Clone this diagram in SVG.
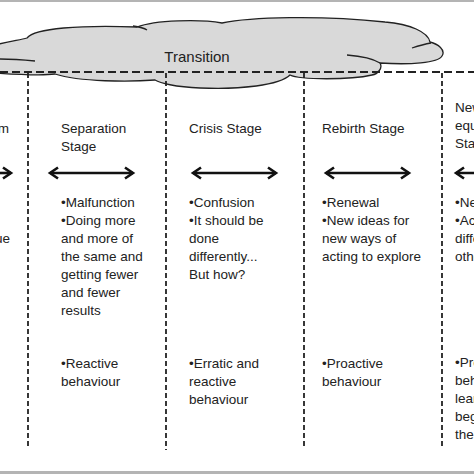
<svg xmlns="http://www.w3.org/2000/svg" width="474" height="474" viewBox="0 0 474 474">
<defs>
<style>
.t{font-family:"Liberation Sans",Arial,sans-serif;font-size:13.5px;fill:#222}
.ttl{font-family:"Liberation Sans",Arial,sans-serif;font-size:15px;fill:#222}
.vd{stroke:#222;stroke-width:1.8;stroke-dasharray:5 3;fill:none}
.hd{stroke:#222;stroke-width:1.8;stroke-dasharray:8 4;fill:none}
.ar{stroke:#111;stroke-width:2.6;fill:none}
.hk{stroke:#222;stroke-width:1.3;fill:none}
</style>
<marker id="ah" viewBox="-2 -7 14 14" markerWidth="14" markerHeight="14" refX="9" refY="0" orient="auto-start-reverse" markerUnits="userSpaceOnUse">
<path d="M1,-5.5 L9,0 L1,5.5" stroke="#111" stroke-width="2.6" fill="none" stroke-linejoin="miter"/>
</marker>
</defs>
<rect x="0" y="0" width="474" height="474" fill="#fff"/>
<rect x="0" y="0" width="474" height="2" fill="#b4b4b4"/>
<rect x="0" y="471" width="474" height="3" fill="#b4b4b4"/>

<g id="cloud">
<path d="M -5,45 C 10,41 20,40 27,38 C 35,28 80,25 137,27 C 155,20 200,19 222,23 C 250,17 320,15 385,22 C 410,24 428,32 430,42 C 438,44 446,50 442,56 C 438,63 410,65 380,63 C 383,68 378,74 372,75 C 350,80 300,80 290,75 C 280,85 240,90 200,88 C 175,87 160,83 155,80 C 130,82 80,82 55,74 C 40,76 10,74 -5,73 Z" fill="#d9d9d9" stroke="#222" stroke-width="1.3"/>
<path class="hk" d="M133,26 C140,27 144,28 147,30"/>
<path class="hk" d="M412,48 C418,46 425,44 431,43"/>
<path class="hk" d="M347,55 C360,56 372,58 380,63"/>
<path class="hk" d="M0,59 C12,59 25,60 35,61"/>
<text class="ttl" x="197" y="62" text-anchor="middle">Transition</text>
</g>

<g id="dividers">
<line class="hd" x1="0" y1="72" x2="474" y2="72"/>
<line class="vd" x1="28" y1="73" x2="28" y2="446"/>
<line class="vd" x1="166" y1="73" x2="166" y2="450"/>
<line class="vd" x1="304" y1="73" x2="304" y2="446"/>
<line class="vd" x1="442" y1="73" x2="442" y2="446"/>
</g>

<g id="connectors">
<line class="ar" x1="-20" y1="173" x2="11" y2="173" marker-end="url(#ah)"/>
<line class="ar" x1="50" y1="173" x2="133" y2="173" marker-start="url(#ah)" marker-end="url(#ah)"/>
<line class="ar" x1="193" y1="173" x2="276" y2="173" marker-start="url(#ah)" marker-end="url(#ah)"/>
<line class="ar" x1="326" y1="173" x2="409" y2="173" marker-start="url(#ah)" marker-end="url(#ah)"/>
<line class="ar" x1="456" y1="173" x2="520" y2="173" marker-start="url(#ah)"/>
</g>

<g id="equilibrium-stage">
<text class="t" x="9" y="132.5" text-anchor="end">m</text>
<text class="t" x="10" y="242.5" text-anchor="end">ue</text>
</g>

<g id="separation-stage">
<text class="t" x="61" y="132.5">Separation</text>
<text class="t" x="61" y="150.5">Stage</text>
<text class="t" x="61" y="206.5">•Malfunction</text>
<text class="t" x="61" y="224.5">•Doing more</text>
<text class="t" x="61" y="242.5">and more of</text>
<text class="t" x="61" y="260.5">the same and</text>
<text class="t" x="61" y="278.5">getting fewer</text>
<text class="t" x="61" y="296.5">and fewer</text>
<text class="t" x="61" y="314.5">results</text>
<text class="t" x="61" y="368">•Reactive</text>
<text class="t" x="61" y="386">behaviour</text>
</g>

<g id="crisis-stage">
<text class="t" x="189" y="132.5">Crisis Stage</text>
<text class="t" x="189" y="206.5">•Confusion</text>
<text class="t" x="189" y="224.5">•It should be</text>
<text class="t" x="189" y="242.5">done</text>
<text class="t" x="189" y="260.5">differently...</text>
<text class="t" x="189" y="278.5">But how?</text>
<text class="t" x="189" y="368">•Erratic and</text>
<text class="t" x="189" y="386">reactive</text>
<text class="t" x="189" y="404">behaviour</text>
</g>

<g id="rebirth-stage">
<text class="t" x="322" y="132.5">Rebirth Stage</text>
<text class="t" x="322" y="206.5">•Renewal</text>
<text class="t" x="322" y="224.5">•New ideas for</text>
<text class="t" x="322" y="242.5">new ways of</text>
<text class="t" x="322" y="260.5">acting to explore</text>
<text class="t" x="322" y="368">•Proactive</text>
<text class="t" x="322" y="386">behaviour</text>
</g>

<g id="new-equilibrium-stage">
<text class="t" x="455" y="112">New</text>
<text class="t" x="455" y="130">equilibrium</text>
<text class="t" x="455" y="148">Stage</text>
<text class="t" x="455" y="206.5">•New</text>
<text class="t" x="455" y="224.5">•Acting</text>
<text class="t" x="455" y="242.5">differently</text>
<text class="t" x="455" y="260.5">others</text>
<text class="t" x="455" y="367">•Proactive</text>
<text class="t" x="455" y="385">behaviour</text>
<text class="t" x="455" y="403">learning</text>
<text class="t" x="455" y="421">beginning</text>
<text class="t" x="455" y="439">the</text>
</g>
</svg>
